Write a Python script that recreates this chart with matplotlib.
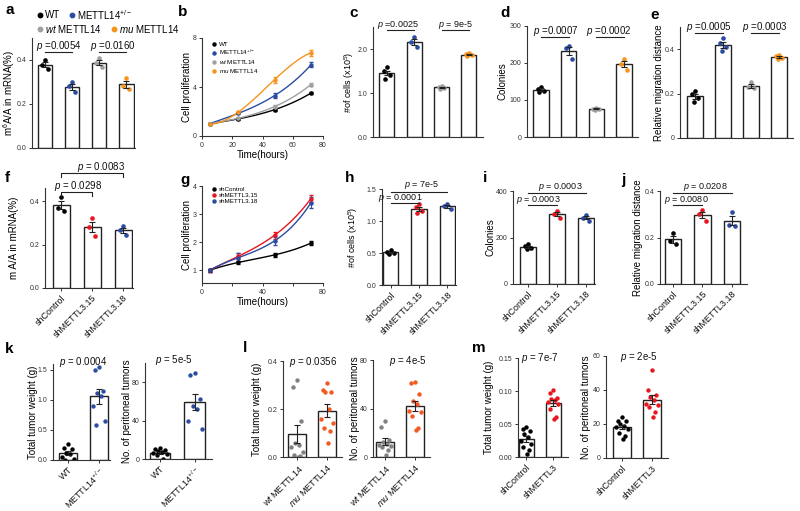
import numpy as np
import matplotlib
matplotlib.use("Agg")
import matplotlib.pyplot as plt
from matplotlib.lines import Line2D
from matplotlib.transforms import blended_transform_factory

plt.rcParams["font.family"] = ["Liberation Sans", "DejaVu Sans"]
plt.rcParams["mathtext.fontset"] = "custom"
plt.rcParams["mathtext.rm"] = "Liberation Sans"
plt.rcParams["mathtext.it"] = "Liberation Sans:italic"

W, H = 800, 511

BLACK = "#000000"
BLUE = "#2b4ca3"
GREY = "#a0a0a0"
DGREY = "#808080"
ORANGE = "#f7941d"
RED = "#e8161e"
ORED = "#f15a22"

# ----------------------------
# data
# ----------------------------
# a: m6A/A (%)
a_wt = [0.40, 0.375, 0.36]
a_het = [0.30, 0.28, 0.255]
a_wtm = [0.41, 0.385, 0.37]
a_mum = [0.32, 0.28, 0.27]

# b: proliferation curves
b_time = [5, 24, 48, 72]
b_wt = [1.0, 1.4, 2.15, 3.5]
b_het = [1.0, 1.85, 3.3, 5.8]
b_wtm = [1.0, 1.45, 2.4, 4.2]
b_mum = [0.95, 1.95, 4.6, 6.8]
b_wt_err = [0.05, 0.08, 0.08, 0.08]
b_het_err = [0.05, 0.08, 0.2, 0.2]
b_wtm_err = [0.05, 0.05, 0.1, 0.1]
b_mum_err = [0.05, 0.1, 0.25, 0.25]

# c: number of cells
c_wt = [1.58, 1.50, 1.42, 1.32]
c_het = [2.28, 2.15, 2.05]
c_wtm = [1.16, 1.14, 1.12, 1.10]
c_mum = [1.90, 1.88, 1.86, 1.84]

# d: colonies
d_wt = [136, 130, 125, 121]
d_het = [245, 240, 212]
d_wtm = [79, 77, 75, 73]
d_mum = [210, 198, 182]

# e: migration
e_wt = [0.21, 0.20, 0.18, 0.16]
e_het = [0.45, 0.43, 0.41, 0.39]
e_wtm = [0.25, 0.23, 0.225]
e_mum = [0.375, 0.37, 0.36, 0.355]

sh_labels = ["shControl", "shMETTL3.15", "shMETTL3.18"]

f_ctrl = [0.42, 0.37, 0.355]
f_15 = [0.32, 0.28, 0.24]
f_18 = [0.285, 0.265, 0.245]

g_time = [5, 24, 48, 72]
g_ctrl = [1.0, 1.28, 1.55, 1.97]
g_15 = [1.0, 1.5, 2.25, 3.55]
g_18 = [1.0, 1.45, 2.05, 3.4]
g_ctrl_err = [0.05, 0.05, 0.08, 0.08]
g_15_err = [0.05, 0.1, 0.12, 0.12]
g_18_err = [0.05, 0.15, 0.15, 0.2]

h_ctrl = [0.54, 0.51, 0.50, 0.49]
h_15 = [1.26, 1.22, 1.16, 1.13]
h_18 = [1.27, 1.24, 1.18]

i_ctrl = [172, 162, 155, 150]
i_15 = [315, 300, 285]
i_18 = [298, 285, 272]

j_ctrl = [0.22, 0.185, 0.17]
j_15 = [0.32, 0.30, 0.27]
j_18 = [0.31, 0.255, 0.25]

k_weight_wt = [0.27, 0.20, 0.18, 0.12, 0.10, 0.05, 0.02, 0.0]
k_weight_het = [1.55, 1.50, 1.15, 1.12, 1.07, 0.90, 0.65, 0.58]
k_count_wt = [11, 10, 9, 8, 7, 6, 5, 4, 0]
k_count_het = [90, 88, 62, 55, 52, 40, 31]

l_weight_wt = [0.32, 0.29, 0.15, 0.06, 0.05, 0.04, 0.02, 0.01, 0.005, 0.0]
l_weight_mu = [0.31, 0.28, 0.27, 0.27, 0.20, 0.16, 0.14, 0.12, 0.11, 0.06]
l_count_wt = [30, 25, 14, 12, 11, 10, 9, 8, 6, 2]
l_count_mu = [62, 61, 52, 46, 44, 38, 37, 34, 24, 22]

m_weight_ctrl = [0.045, 0.043, 0.040, 0.035, 0.030, 0.025, 0.020, 0.015, 0.010, 0.005]
m_weight_sh = [0.101, 0.097, 0.090, 0.088, 0.086, 0.084, 0.080, 0.072, 0.060, 0.058]
m_count_ctrl = [24, 22, 22, 20, 19, 18, 17, 15, 13, 11]
m_count_sh = [52, 40, 37, 36, 34, 32, 31, 30, 27, 24]

# ----------------------------
# helpers
# ----------------------------
fig = plt.figure(figsize=(8.0, 5.11), dpi=100)
fig.patch.set_facecolor("white")


def add_panel(x0, x1, top, bottom):
    ax = fig.add_axes([x0 / W, 1 - bottom / H, (x1 - x0) / W, (bottom - top) / H])
    ax._px = (top, bottom)
    ax._pxx = (x0, x1)
    for s in ("top", "right"):
        ax.spines[s].set_visible(False)
    for s in ("left", "bottom"):
        ax.spines[s].set_linewidth(0.8)
        ax.spines[s].set_color("#333333")
    ax.tick_params(labelsize=5, length=2.5, width=0.7, colors="#333333", pad=1.5)
    return ax


def ylab(ax, text, xpx, size=7):
    # xpx: right edge of the rotated label, in figure pixels
    x0, x1 = ax._pxx
    ax.set_ylabel(text, fontsize=size)
    ax.yaxis.set_label_coords((xpx - x0) / (x1 - x0), 0.5)


def yfrac(ax, ypx):
    top, bottom = ax._px
    return (bottom - ypx) / (bottom - top)


def p_line(ax, x0, x1, ypx, drop=0):
    tr = blended_transform_factory(ax.transData, ax.transAxes)
    y = yfrac(ax, ypx)
    d = drop / (ax._px[1] - ax._px[0])
    if drop:
        xs, ys = [x0, x0, x1, x1], [y - d, y, y, y - d]
    else:
        xs, ys = [x0, x1], [y, y]
    ax.plot(xs, ys, transform=tr, clip_on=False, color="#222222", lw=0.8)


def p_text(ax, x, ypx, s, size=6.5):
    tr = blended_transform_factory(ax.transData, ax.transAxes)
    ax.text(x, yfrac(ax, ypx), s, transform=tr, ha="center", va="center",
            fontsize=size, color="#111111")


def jitter(n, spread):
    pattern = [0.0, -0.6, 0.6, -0.3, 0.3, -0.9, 0.9, -0.45, 0.45, 0.15, -0.15]
    return np.array(pattern[:n]) * spread


def bars(ax, groups, colors, width=0.55, spread=0.18, size=11):
    pos = np.arange(len(groups))
    means = [np.mean(g) for g in groups]
    sems = [np.std(g, ddof=1) / np.sqrt(len(g)) for g in groups]
    ax.bar(pos, means, width, color="white", edgecolor="#222222", lw=1.0, zorder=1)
    for i, (g, c) in enumerate(zip(groups, colors)):
        ax.scatter(pos[i] + jitter(len(g), spread), g, s=size, color=c, lw=0, zorder=2)
    ax.errorbar(pos, means, yerr=sems, fmt="none", ecolor="#222222",
                elinewidth=0.8, capsize=2.2, capthick=0.8, zorder=3)
    return pos


def curve(ax, t, y, err, color):
    coef = np.polyfit(t, y, 3)
    tt = np.linspace(min(t), max(t), 100)
    ax.plot(tt, np.polyval(coef, tt), color=color, lw=1.0, zorder=2)
    ax.errorbar(t, y, yerr=err, fmt="o", ms=2.2, color=color, ecolor=color,
                elinewidth=0.7, capsize=1.5, zorder=3)


def xlabels_rot(ax, labels):
    ax.set_xticks(np.arange(len(labels)))
    ax.set_xticklabels(labels, rotation=45, ha="right", rotation_mode="anchor",
                       fontsize=6.5, color="#111111")


def no_xticks(ax):
    ax.set_xticks([])


overlay = fig.add_axes([0, 0, 1, 1])
overlay.set_xlim(0, W)
overlay.set_ylim(H, 0)
overlay.axis("off")
overlay.patch.set_alpha(0)

for letter, x, y in [("a", 5, 10), ("b", 178, 12), ("c", 349, 13), ("d", 500, 13),
                     ("e", 650, 15), ("f", 5, 178), ("g", 180, 180), ("h", 345, 178),
                     ("i", 483, 178), ("j", 621, 180), ("k", 5, 349), ("l", 243, 348),
                     ("m", 472, 348)]:
    overlay.text(x, y, letter, fontsize=11, fontweight="bold", va="center", ha="left")

# legend for a (two rows)
for x, y, c, lab in [(40, 15, BLACK, "WT"), (72, 15, BLUE, "METTL14$^{+/-}$"),
                     (40, 29, GREY, "$wt$ METTL14"), (114, 29, ORANGE, "$mu$ METTL14")]:
    overlay.plot([x], [y], "o", ms=3.2, color=c)
    overlay.text(x + 5, y, lab, fontsize=7, va="center", ha="left")

# ----------------------------
# a
# ----------------------------
ax = add_panel(32, 135, 38, 148)
bars(ax, [a_wt, a_het, a_wtm, a_mum], [BLACK, BLUE, GREY, ORANGE], width=0.55)
ax.set_xlim(-0.48, 3.33)
ax.set_ylim(0, 0.5)
ax.set_yticks([0.0, 0.2, 0.4])
ax.set_yticklabels(["0.0", "0.2", "0.4"])
no_xticks(ax)
ylab(ax, "m$^6$A/A in mRNA(%)", 17)
p_line(ax, 0, 1, 52)
p_line(ax, 2, 3, 52)
p_text(ax, 0.5, 46, "$p$ =0.0054", 7)
p_text(ax, 2.5, 46, "$p$ =0.0160", 7)

# ----------------------------
# b
# ----------------------------
ax = add_panel(202, 323, 38, 136)
curve(ax, b_time, b_wt, b_wt_err, BLACK)
curve(ax, b_time, b_het, b_het_err, BLUE)
curve(ax, b_time, b_wtm, b_wtm_err, GREY)
curve(ax, b_time, b_mum, b_mum_err, ORANGE)
ax.set_xlim(0, 80)
ax.set_ylim(0, 8)
ax.set_xticks([0, 20, 40, 60, 80])
ax.set_yticks([0, 4, 8])
ax.set_xlabel("Time(hours)", fontsize=7, labelpad=1)
ylab(ax, "Cell proliferation", 192)
handles = [Line2D([], [], marker="o", ls="", ms=2.2, color=c) for c in (BLACK, BLUE, GREY, ORANGE)]
ax.legend(handles, ["WT", "METTL14$^{+/-}$", "$wt$ METTL14", "$mu$ METTL14"],
          loc="upper left", bbox_to_anchor=(0.05, 1.0), frameon=False, fontsize=4.5,
          handlelength=0.6, handletextpad=0.5, labelspacing=0.15, borderaxespad=0.2)

# ----------------------------
# c
# ----------------------------
ax = add_panel(373, 483, 27, 137)
bars(ax, [c_wt, c_het, c_wtm, c_mum], [BLACK, BLUE, GREY, ORANGE])
ax.set_xlim(-0.51, 3.52)
ax.set_ylim(0, 2.5)
ax.set_yticks([0.0, 1.0, 2.0])
ax.set_yticklabels(["0.0", "1.0", "2.0"])
no_xticks(ax)
ylab(ax, "#of cells (x10$^5$)", 356, 6.5)
p_line(ax, 0, 1, 30)
p_line(ax, 2, 3, 30)
p_text(ax, 0.4, 25, "$p$ =0.0025", 6.5)
p_text(ax, 2.5, 25, "$p$ = 9e-5", 6.5)

# ----------------------------
# d
# ----------------------------
ax = add_panel(527, 638, 26, 137)
bars(ax, [d_wt, d_het, d_wtm, d_mum], [BLACK, BLUE, GREY, ORANGE])
ax.set_xlim(-0.5, 3.5)
ax.set_ylim(0, 300)
ax.set_yticks([0, 100, 200, 300])
no_xticks(ax)
ylab(ax, "Colonies", 508)
p_line(ax, 0, 1, 37)
p_line(ax, 2, 3, 37)
p_text(ax, 0.55, 31, "$p$ =0.0007", 7)
p_text(ax, 2.45, 31, "$p$ =0.0002", 7)

# ----------------------------
# e
# ----------------------------
ax = add_panel(680, 793, 27, 138)
bars(ax, [e_wt, e_het, e_wtm, e_mum], [BLACK, BLUE, GREY, ORANGE])
ax.set_xlim(-0.54, 3.5)
ax.set_ylim(0, 0.5)
ax.set_yticks([0, 0.2, 0.4])
ax.set_yticklabels(["0", "0.2", "0.4"])
no_xticks(ax)
ylab(ax, "Relative migration distance", 664)
p_line(ax, 0, 1, 33)
p_line(ax, 2, 3, 33)
p_text(ax, 0.5, 27, "$p$ =0.0005", 7)
p_text(ax, 2.5, 27, "$p$ =0.0003", 7)

# ----------------------------
# f
# ----------------------------
ax = add_panel(45, 133, 188, 288)
bars(ax, [f_ctrl, f_15, f_18], [BLACK, RED, BLUE])
ax.set_xlim(-0.52, 2.32)
ax.set_ylim(0, 0.46)
ax.set_yticks([0.0, 0.2, 0.4])
ax.set_yticklabels(["0.0", "0.2", "0.4"])
xlabels_rot(ax, sh_labels)
ylab(ax, "m A/A in mRNA(%)", 19)
p_line(ax, 0, 2, 173, drop=4)
p_line(ax, 0, 1, 192, drop=4)
p_text(ax, 1.3, 167, "$p$ = 0.0083", 7)
p_text(ax, 0.55, 186, "$p$ = 0.0298", 7)

# ----------------------------
# g
# ----------------------------
ax = add_panel(202, 323, 186, 283)
curve(ax, g_time, g_ctrl, g_ctrl_err, BLACK)
curve(ax, g_time, g_15, g_15_err, RED)
curve(ax, g_time, g_18, g_18_err, BLUE)
ax.set_xlim(0, 80)
ax.set_ylim(0.55, 4)
ax.set_xticks([0, 40, 80])
ax.set_xticks([20, 60], minor=True)
ax.tick_params(which="minor", length=2, width=0.7, colors="#333333")
ax.set_yticks([1, 2, 3, 4])
ax.set_xlabel("Time(hours)", fontsize=7, labelpad=1)
ylab(ax, "Cell proliferation", 192)
handles = [Line2D([], [], marker="o", ls="", ms=2.2, color=c) for c in (BLACK, RED, BLUE)]
ax.legend(handles, sh_labels, loc="upper left", bbox_to_anchor=(0.05, 1.03), frameon=False,
          fontsize=4.5, handlelength=0.6, handletextpad=0.5, labelspacing=0.1,
          borderaxespad=0.2)

# ----------------------------
# h
# ----------------------------
ax = add_panel(382, 456, 189, 285)
bars(ax, [h_ctrl, h_15, h_18], [BLACK, RED, BLUE], width=0.55)
ax.set_xlim(-0.3, 2.3)
ax.set_ylim(0, 1.5)
ax.set_yticks([0.0, 0.5, 1.0, 1.5])
ax.set_yticklabels(["0.0", "0.5", "1.0", "1.5"])
xlabels_rot(ax, sh_labels)
ylab(ax, "#of cells (x10$^5$)", 360, 6.5)
p_line(ax, 0, 2, 192)
p_line(ax, 0, 1, 203)
p_text(ax, 1.1, 185, "$p$ = 7e-5", 6.5)
p_text(ax, 0.35, 197.5, "$p$ = 0.0001", 6.5)

# ----------------------------
# i
# ----------------------------
ax = add_panel(513, 595, 191, 284)
bars(ax, [i_ctrl, i_15, i_18], [BLACK, RED, BLUE])
ax.set_xlim(-0.52, 2.31)
ax.set_ylim(0, 400)
ax.set_yticks([0, 200, 400])
xlabels_rot(ax, sh_labels)
ylab(ax, "Colonies", 496)
p_line(ax, 0, 2, 193)
p_line(ax, 0, 1, 205)
p_text(ax, 1.1, 187, "$p$ = 0.0003", 6.5)
p_text(ax, 0.35, 199.5, "$p$ = 0.0003", 6.5)

# ----------------------------
# j
# ----------------------------
ax = add_panel(660, 747, 191, 284)
bars(ax, [j_ctrl, j_15, j_18], [BLACK, RED, BLUE])
ax.set_xlim(-0.44, 2.51)
ax.set_ylim(0, 0.4)
ax.set_yticks([0.0, 0.2, 0.4])
ax.set_yticklabels(["0.0", "0.2", "0.4"])
xlabels_rot(ax, sh_labels)
ylab(ax, "Relative migration distance", 643)
p_line(ax, 0, 2, 193)
p_line(ax, 0, 1, 205)
p_text(ax, 1.1, 187, "$p$ = 0.0208", 6.5)
p_text(ax, 0.45, 199.5, "$p$ = 0.0080", 6.5)

# ----------------------------
# k
# ----------------------------
ax = add_panel(53, 110, 364, 460)
bars(ax, [k_weight_wt, k_weight_het], [BLACK, BLUE], width=0.6, spread=0.22, size=10)
ax.set_xlim(-0.48, 1.35)
ax.set_ylim(0, 1.6)
ax.set_yticks([0.0, 0.5, 1.0, 1.5])
ax.set_yticklabels(["0.0", "0.5", "1.0", "1.5"])
xlabels_rot(ax, ["WT", "METTL14$^{+/-}$"])
ylab(ax, "Total tumor weight (g)", 38)
p_text(ax, 0.5, 362, "$p$ = 0.0004", 7)

ax = add_panel(145, 212, 363, 459)
bars(ax, [k_count_wt, k_count_het], [BLACK, BLUE], width=0.6, spread=0.22, size=10)
ax.set_xlim(-0.43, 1.49)
ax.set_ylim(0, 100)
ax.set_yticks([0, 40, 80])
xlabels_rot(ax, ["WT", "METTL14$^{+/-}$"])
ylab(ax, "No. of peritoneal tumors", 132)
p_text(ax, 0.4, 360, "$p$ = 5e-5", 7)

# ----------------------------
# l
# ----------------------------
ax = add_panel(283, 342, 361, 457)
bars(ax, [l_weight_wt, l_weight_mu], [DGREY, ORED], width=0.6, spread=0.22, size=10)
ax.set_xlim(-0.47, 1.5)
ax.set_ylim(0, 0.4)
ax.set_yticks([0.0, 0.2, 0.4])
ax.set_yticklabels(["0.0", "0.2", "0.4"])
xlabels_rot(ax, ["$wt$ METTL14", "$mu$ METTL14"])
ylab(ax, "Total tumor weight (g)", 262)
p_text(ax, 0.55, 362, "$p$ = 0.0356", 7)

ax = add_panel(373, 430, 360, 457)
bars(ax, [l_count_wt, l_count_mu], [DGREY, ORED], width=0.6, spread=0.22, size=10)
ax.set_xlim(-0.4, 1.5)
ax.set_ylim(0, 80)
ax.set_yticks([0, 40, 80])
xlabels_rot(ax, ["$wt$ METTL14", "$mu$ METTL14"])
ylab(ax, "No. of peritoneal tumors", 360)
p_text(ax, 0.75, 361, "$p$ = 4e-5", 7)

# ----------------------------
# m
# ----------------------------
ax = add_panel(518, 568, 358, 457)
bars(ax, [m_weight_ctrl, m_weight_sh], [BLACK, RED], width=0.55, spread=0.22, size=10)
ax.set_xlim(-0.3, 1.55)
ax.set_ylim(0, 0.15)
ax.set_yticks([0.0, 0.05, 0.10, 0.15])
ax.set_yticklabels(["0.00", "0.05", "0.10", "0.15"])
xlabels_rot(ax, ["shControl", "shMETTL3"])
ylab(ax, "Total tumor weight (g)", 494)
p_text(ax, 0.5, 358, "$p$ = 7e-7", 7)

ax = add_panel(606, 668, 356, 458)
bars(ax, [m_count_ctrl, m_count_sh], [BLACK, RED], width=0.6, spread=0.22, size=10)
ax.set_xlim(-0.53, 1.53)
ax.set_ylim(0, 60)
ax.set_yticks([0, 20, 40, 60])
xlabels_rot(ax, ["shControl", "shMETTL3"])
ylab(ax, "No. of peritoneal tumors", 591)
p_text(ax, 0.55, 357, "$p$ = 2e-5", 7)

fig.savefig("out.png", dpi=100)
